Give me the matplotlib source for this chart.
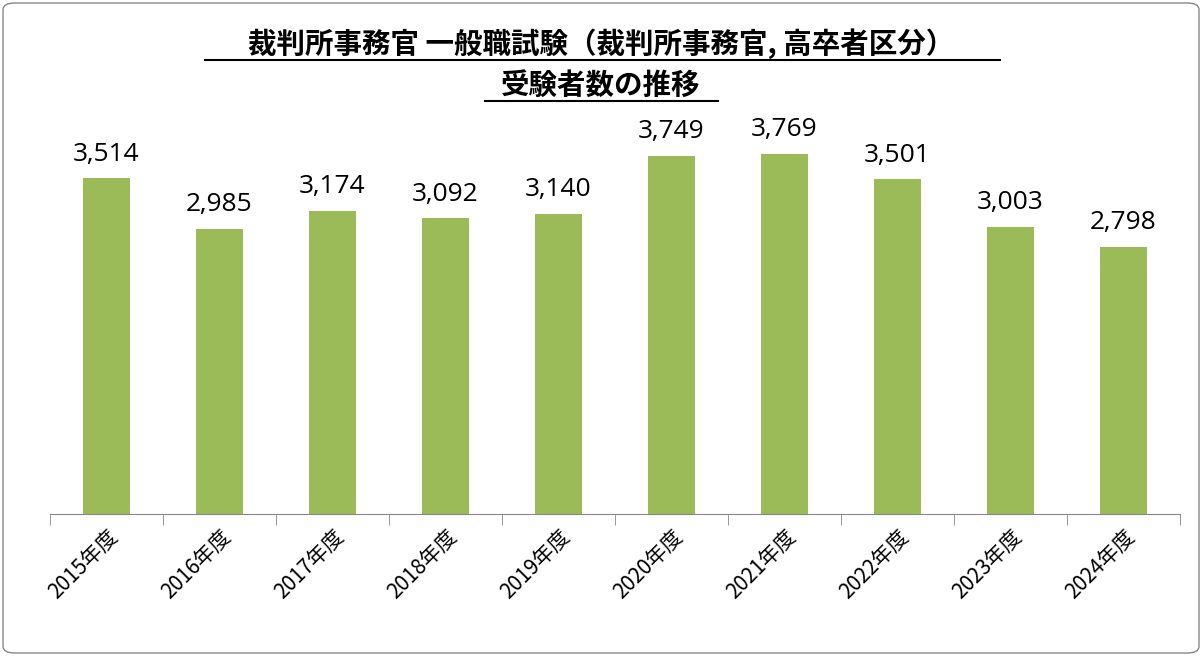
import matplotlib
matplotlib.use("Agg")
import matplotlib.pyplot as plt
from matplotlib.lines import Line2D
from matplotlib.patches import FancyBboxPatch
from matplotlib.ticker import FixedLocator

years = ["2015年度", "2016年度", "2017年度", "2018年度", "2019年度",
         "2020年度", "2021年度", "2022年度", "2023年度", "2024年度"]
values = [3514, 2985, 3174, 3092, 3140, 3749, 3769, 3501, 3003, 2798]
title1 = "裁判所事務官 一般職試験（裁判所事務官, 高卒者区分）"
title2 = "受験者数の推移"

plt.rcParams["font.family"] = "Noto Sans CJK JP"
W, H = 1202, 656
fig = plt.figure(figsize=(W/100, H/100), dpi=100)
fig.add_artist(FancyBboxPatch((3/W, 3/H), 1-6/W, 1-6/H, boxstyle="round,pad=0,rounding_size=0.01",
                              transform=fig.transFigure, fill=False, ec="#888888", lw=1))
ax = fig.add_axes([50/W, (H-514)/H, 1130/W, 434/H])
x = range(len(years))
ax.bar(x, values, width=0.41, color="#9BBB59")
for i, v in enumerate(values):
    ax.text(i, v + 120, f"{v:,}", ha="center", va="bottom", fontsize=19, fontfamily="Open Sans")
ax.set_xlim(-0.5, 9.5)
ax.set_ylim(0, 4540)
ax.set_yticks([])
for s in ["top", "right", "left"]:
    ax.spines[s].set_visible(False)
ax.spines["bottom"].set_color("#888888")
ax.set_xticks(list(x))
ax.set_xticklabels(years, rotation=45, ha="right", rotation_mode="anchor", fontsize=15)
ax.tick_params(axis="x", length=0, pad=8)
ax.xaxis.set_minor_locator(FixedLocator([i - 0.5 for i in range(11)]))
ax.tick_params(axis="x", which="minor", length=8, color="#888888")

fig.text(0.5, (H-44)/H, title1, ha="center", va="center", fontsize=20.5, fontweight="bold")
fig.text(0.5, (H-86)/H, title2, ha="center", va="center", fontsize=20.5, fontweight="bold")
fig.add_artist(Line2D([205/W, 1000/W], [(H-60)/H]*2, color="black", lw=1.5))
fig.add_artist(Line2D([485/W, 718/W], [(H-101)/H]*2, color="black", lw=1.5))
fig.savefig("out.png", dpi=100)
